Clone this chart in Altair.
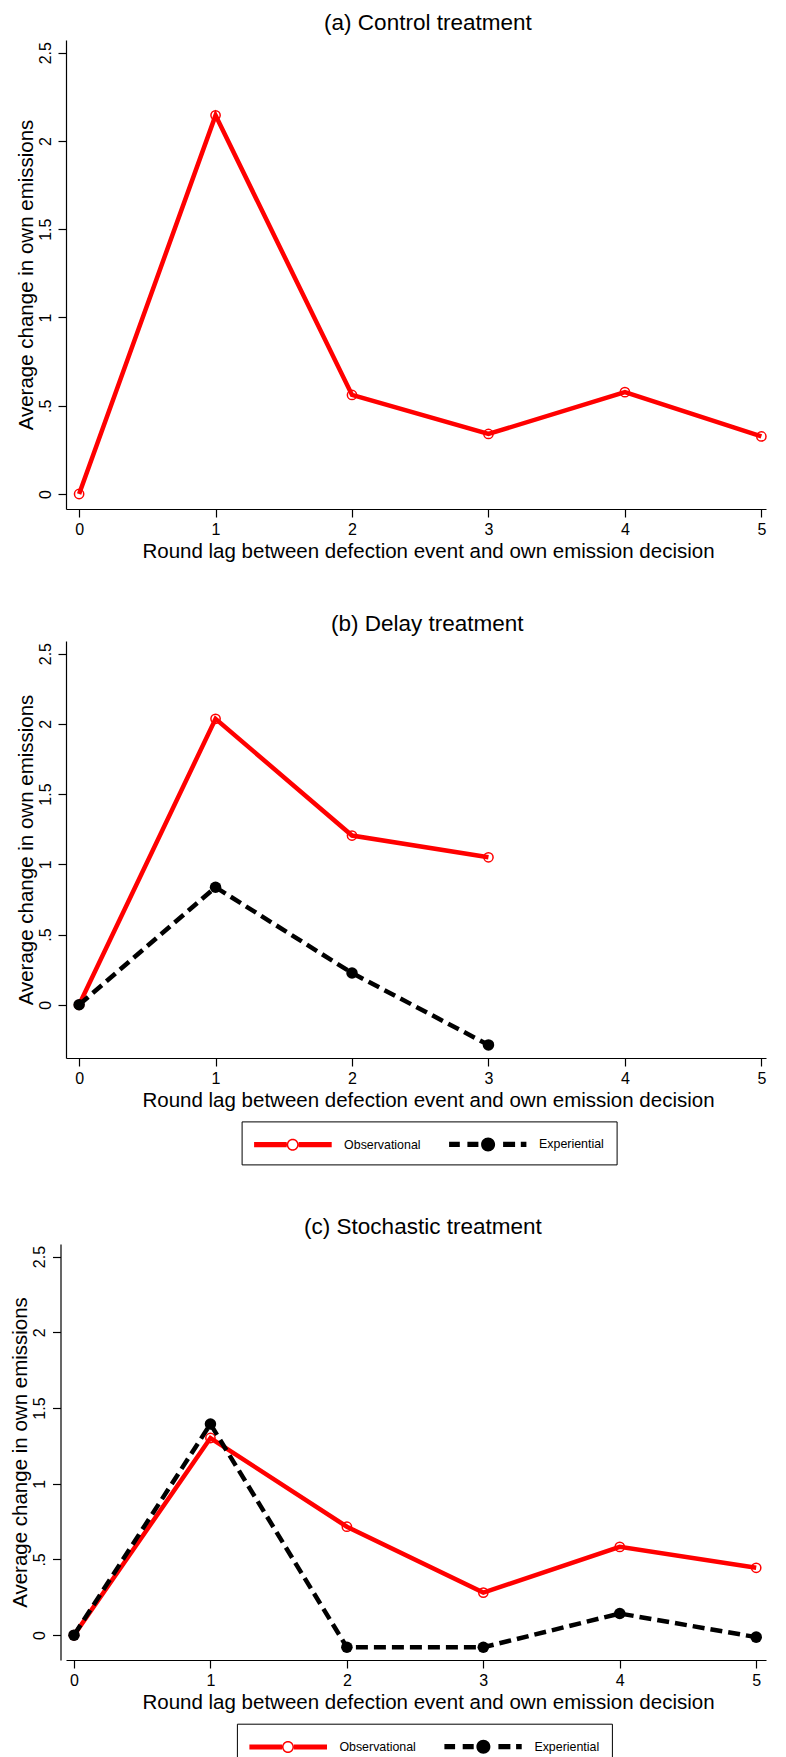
import altair as alt
import pandas as pd

# ---- data ----
lags = [0, 1, 2, 3, 4, 5]
delay_lags = [0, 1, 2, 3]
control_obs = [0.0, 2.145, 0.561, 0.340, 0.577, 0.326]
delay_obs = [0.0, 2.036, 1.205, 1.050]
delay_exp = [0.0, 0.837, 0.226, -0.286]
stoch_obs = [0.0, 1.302, 0.716, 0.281, 0.583, 0.445]
stoch_exp = [0.0, 1.394, -0.080, -0.080, 0.143, -0.013]

series_names = ["Observational", "Experiential"]
panel_titles = ["(a) Control treatment", "(b) Delay treatment", "(c) Stochastic treatment"]
x_title = "Round lag between defection event and own emission decision"
y_title = "Average change in own emissions"
x_tick_values = [0, 1, 2, 3, 4, 5]
x_tick_labels = ["0", "1", "2", "3", "4", "5"]
y_tick_values = [0, 0.5, 1, 1.5, 2, 2.5]
y_tick_labels = ["0", ".5", "1", "1.5", "2", "2.5"]

FONT = "Liberation Sans"
RED = "#ff0000"

# legend symbols (line + marker) as filled custom paths; 1 unit = 10 px (symbolSize 400)
OBS_PATH = ("M-1,-0.26H2.26V0.26H-1Z M3.46,-0.26H6.76V0.26H3.46Z "
            "M2.26,0A0.6,0.6 0 1,1 3.46,0A0.6,0.6 0 1,1 2.26,0Z "
            "M2.41,0A0.45,0.45 0 1,0 3.31,0A0.45,0.45 0 1,0 2.41,0Z")
EXP_PATH = ("M-1,-0.26H0.07V0.26H-1Z M0.83,-0.26H1.93V0.26H0.83Z "
            "M4.4,-0.26H5.6V0.26H4.4Z M6.17,-0.26H6.73V0.26H6.17Z "
            "M2.2,0A0.7,0.7 0 1,1 3.6,0A0.7,0.7 0 1,1 2.2,0Z")

PLOT_W = 700


def label_expr(values, labels):
    expr = "''"
    for v, l in reversed(list(zip(values, labels))):
        expr = f"datum.value == {v} ? '{l}' : ({expr})"
    return expr


def frame(xs, ys, name):
    return pd.DataFrame({"lag": xs, "value": ys, "series": name})


def panel(title, title_dx, obs, exp, xdom, ydom, height, yoffset=0, legend_xy=None):
    x_axis = alt.Axis(values=x_tick_values, labelExpr=label_expr(x_tick_values, x_tick_labels),
                      title=x_title, tickSize=8, labelPadding=4, titlePadding=4,
                      labelFlush=False, labelOverlap=False, titleX=362)
    y_axis = alt.Axis(values=y_tick_values, labelExpr=label_expr(y_tick_values, y_tick_labels),
                      title=y_title, tickSize=8, labelAngle=270, labelAlign="center",
                      labelBaseline="bottom", labelPadding=5, titlePadding=0.7,
                      labelOverlap=False, offset=yoffset)
    X = alt.X("lag:Q", scale=alt.Scale(domain=xdom, nice=False, zero=False), axis=x_axis)
    Y = alt.Y("value:Q", scale=alt.Scale(domain=ydom, nice=False, zero=False), axis=y_axis)

    layers = []
    layers.append(alt.Chart(obs).mark_line(color=RED, strokeWidth=4.5).encode(x=X, y=Y))
    layers.append(alt.Chart(obs).mark_point(shape="circle", filled=False, color=RED, size=86,
                                            strokeWidth=1.5, opacity=1).encode(x=X, y=Y))
    if exp is not None:
        layers.append(alt.Chart(exp).mark_line(color="black", strokeWidth=4.5,
                                               strokeDash=[12, 6]).encode(x=X, y=Y))
        layers.append(alt.Chart(exp).mark_point(shape="circle", filled=True, color="black",
                                                size=133, opacity=1).encode(x=X, y=Y))
        leg = alt.Legend(orient="none", legendX=legend_xy[0], legendY=legend_xy[1],
                         direction="horizontal", title=None, symbolSize=400,
                         symbolStrokeWidth=0, symbolOpacity=1,
                         labelFontSize=12.4, labelFont=FONT, labelColor="black",
                         labelOffset=70, columnPadding=28, padding=12.5,
                         strokeColor="black", fillColor="white", labelLimit=0)
        # legend carrier: only the lag-0 rows, drawn invisibly
        both = pd.concat([obs.iloc[:1], exp.iloc[:1]])
        layers.append(alt.Chart(both).mark_point(filled=True, size=400, opacity=0).encode(
            x=X, y=Y,
            color=alt.Color("series:N", scale=alt.Scale(domain=series_names, range=[RED, "black"]),
                            legend=leg),
            shape=alt.Shape("series:N", scale=alt.Scale(domain=series_names, range=[OBS_PATH, EXP_PATH]),
                            legend=leg),
        ))
    return alt.layer(*layers).properties(
        width=PLOT_W, height=height,
        title=alt.TitleParams(title, fontSize=22.5, font=FONT, fontWeight="normal",
                              anchor="middle", frame="group", offset=6, dx=title_dx,
                              color="black"),
    )


pa = panel(panel_titles[0], 11.9, frame(lags, control_obs, series_names[0]), None,
           [-0.096, 5.034], [-0.085, 2.572], 469)
pb = panel(panel_titles[1], 11.3, frame(delay_lags, delay_obs, series_names[0]),
           frame(delay_lags, delay_exp, series_names[1]),
           [-0.096, 5.034], [-0.379, 2.590], 417, legend_xy=(175.6, 480.4))
pc = panel(panel_titles[2], 6.9, frame(lags, stoch_obs, series_names[0]),
           frame(lags, stoch_exp, series_names[1]),
           [-0.0586, 5.0718], [-0.164, 2.583], 416, yoffset=5.5, legend_xy=(170.9, 479.7))

chart = alt.vconcat(pa, pb, pc, spacing=50).resolve_scale(
    color="independent", shape="independent"
).resolve_legend(color="independent", shape="independent").properties(
    padding={"left": 2, "top": 3, "right": 0, "bottom": -10}
).configure_view(stroke=None).configure_axis(
    grid=False, domainColor="black", tickColor="black", labelColor="black", titleColor="black",
    labelFont=FONT, titleFont=FONT, labelFontSize=16, titleFontSize=20.5,
    titleFontWeight="normal", domainWidth=1.2, tickWidth=1.2
)

chart.save("out.html", embed_options={"renderer": "svg", "actions": False})
